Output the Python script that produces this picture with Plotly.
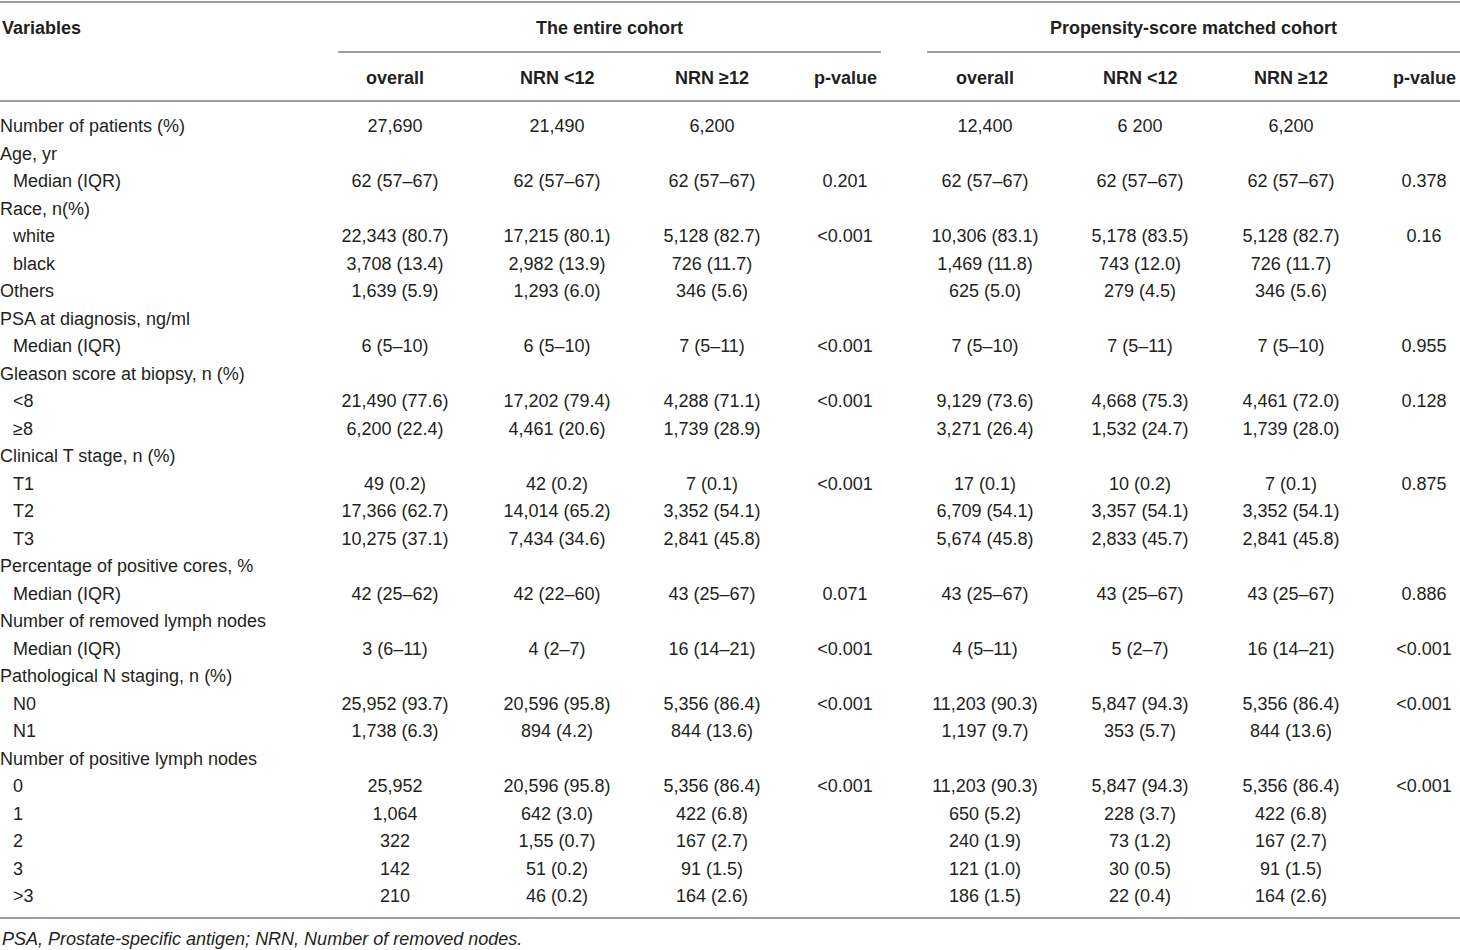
import plotly.graph_objects as go

# Row labels and whether they are indented sub-rows
labels = [
    "Number of patients (%)", "Age, yr", "Median (IQR)", "Race, n(%)", "white", "black",
    "Others", "PSA at diagnosis, ng/ml", "Median (IQR)", "Gleason score at biopsy, n (%)",
    "<8", "≥8", "Clinical T stage, n (%)", "T1", "T2", "T3",
    "Percentage of positive cores, %", "Median (IQR)", "Number of removed lymph nodes",
    "Median (IQR)", "Pathological N staging, n (%)", "N0", "N1",
    "Number of positive lymph nodes", "0", "1", "2", "3", ">3",
]
indented = [
    False, False, True, False, True, True,
    False, False, True, False,
    True, True, False, True, True, True,
    False, True, False,
    True, False, True, True,
    False, True, True, True, True, True,
]

# The entire cohort
ent_overall = [
    "27,690", "", "62 (57–67)", "", "22,343 (80.7)", "3,708 (13.4)",
    "1,639 (5.9)", "", "6 (5–10)", "",
    "21,490 (77.6)", "6,200 (22.4)", "", "49 (0.2)", "17,366 (62.7)", "10,275 (37.1)",
    "", "42 (25–62)", "",
    "3 (6–11)", "", "25,952 (93.7)", "1,738 (6.3)",
    "", "25,952", "1,064", "322", "142", "210",
]
ent_lt12 = [
    "21,490", "", "62 (57–67)", "", "17,215 (80.1)", "2,982 (13.9)",
    "1,293 (6.0)", "", "6 (5–10)", "",
    "17,202 (79.4)", "4,461 (20.6)", "", "42 (0.2)", "14,014 (65.2)", "7,434 (34.6)",
    "", "42 (22–60)", "",
    "4 (2–7)", "", "20,596 (95.8)", "894 (4.2)",
    "", "20,596 (95.8)", "642 (3.0)", "1,55 (0.7)", "51 (0.2)", "46 (0.2)",
]
ent_ge12 = [
    "6,200", "", "62 (57–67)", "", "5,128 (82.7)", "726 (11.7)",
    "346 (5.6)", "", "7 (5–11)", "",
    "4,288 (71.1)", "1,739 (28.9)", "", "7 (0.1)", "3,352 (54.1)", "2,841 (45.8)",
    "", "43 (25–67)", "",
    "16 (14–21)", "", "5,356 (86.4)", "844 (13.6)",
    "", "5,356 (86.4)", "422 (6.8)", "167 (2.7)", "91 (1.5)", "164 (2.6)",
]
ent_p = [
    "", "", "0.201", "", "<0.001", "",
    "", "", "<0.001", "",
    "<0.001", "", "", "<0.001", "", "",
    "", "0.071", "",
    "<0.001", "", "<0.001", "",
    "", "<0.001", "", "", "", "",
]

# Propensity-score matched cohort
psm_overall = [
    "12,400", "", "62 (57–67)", "", "10,306 (83.1)", "1,469 (11.8)",
    "625 (5.0)", "", "7 (5–10)", "",
    "9,129 (73.6)", "3,271 (26.4)", "", "17 (0.1)", "6,709 (54.1)", "5,674 (45.8)",
    "", "43 (25–67)", "",
    "4 (5–11)", "", "11,203 (90.3)", "1,197 (9.7)",
    "", "11,203 (90.3)", "650 (5.2)", "240 (1.9)", "121 (1.0)", "186 (1.5)",
]
psm_lt12 = [
    "6 200", "", "62 (57–67)", "", "5,178 (83.5)", "743 (12.0)",
    "279 (4.5)", "", "7 (5–11)", "",
    "4,668 (75.3)", "1,532 (24.7)", "", "10 (0.2)", "3,357 (54.1)", "2,833 (45.7)",
    "", "43 (25–67)", "",
    "5 (2–7)", "", "5,847 (94.3)", "353 (5.7)",
    "", "5,847 (94.3)", "228 (3.7)", "73 (1.2)", "30 (0.5)", "22 (0.4)",
]
psm_ge12 = [
    "6,200", "", "62 (57–67)", "", "5,128 (82.7)", "726 (11.7)",
    "346 (5.6)", "", "7 (5–10)", "",
    "4,461 (72.0)", "1,739 (28.0)", "", "7 (0.1)", "3,352 (54.1)", "2,841 (45.8)",
    "", "43 (25–67)", "",
    "16 (14–21)", "", "5,356 (86.4)", "844 (13.6)",
    "", "5,356 (86.4)", "422 (6.8)", "167 (2.7)", "91 (1.5)", "164 (2.6)",
]
psm_p = [
    "", "", "0.378", "", "0.16", "",
    "", "", "0.955", "",
    "0.128", "", "", "0.875", "", "",
    "", "0.886", "",
    "<0.001", "", "<0.001", "",
    "", "<0.001", "", "", "", "",
]

group_headers = ["The entire cohort", "Propensity-score matched cohort"]
sub_headers = ["overall", "NRN <12", "NRN ≥12", "p-value",
               "overall", "NRN <12", "NRN ≥12", "p-value"]
footnote = "PSA, Prostate-specific antigen; NRN, Number of removed nodes."

# layout (pixel space)
W, H = 1460, 950
FONT = "Liberation Sans, Arial, Helvetica, sans-serif"
TXT = "#231f20"
LINE = "#a0a0a0"
FS = 18
row0, row_h = 127.5, 27.5
col_x = [395, 557, 712, 845, 985, 1140, 1291, 1424]
group_x = [609, 1193]
row_y = [row0 + i * row_h for i in range(len(labels))]

fig = go.Figure()

# label column
lab_x = [13 if ind else 0 for ind in indented]
fig.add_trace(go.Scatter(
    x=lab_x, y=row_y, mode="text", text=labels, textposition="middle right",
    textfont=dict(family=FONT, size=FS, color=TXT), hoverinfo="skip",
))

columns = [ent_overall, ent_lt12, ent_ge12, ent_p,
           psm_overall, psm_lt12, psm_ge12, psm_p]
for cx, vals in zip(col_x, columns):
    fig.add_trace(go.Scatter(
        x=[cx] * len(vals), y=row_y, mode="text", text=vals, textposition="middle center",
        textfont=dict(family=FONT, size=FS, color=TXT), hoverinfo="skip",
    ))

# header text
fig.add_annotation(x=0, y=28, text="<b>Variables</b>", showarrow=False, xanchor="left",
                   font=dict(family=FONT, size=FS, color=TXT))
for gx, g in zip(group_x, group_headers):
    fig.add_annotation(x=gx, y=28, text=f"<b>{g}</b>", showarrow=False,
                       font=dict(family=FONT, size=FS, color=TXT))
for cx, s in zip(col_x, sub_headers):
    fig.add_annotation(x=cx, y=78, text=f"<b>{s}</b>", showarrow=False,
                       font=dict(family=FONT, size=FS, color=TXT))
fig.add_annotation(x=0, y=939, text=f"<i>{footnote}</i>", showarrow=False, xanchor="left",
                   font=dict(family=FONT, size=FS, color=TXT))

# rules
for y0, xa, xb in [(2, 0, W), (101, 0, W), (918, 0, W), (52, 338, 881), (52, 927, W)]:
    fig.add_shape(type="line", x0=xa, x1=xb, y0=y0, y1=y0,
                  line=dict(color=LINE, width=2))

fig.update_layout(
    width=W, height=H, margin=dict(l=0, r=0, t=0, b=0),
    paper_bgcolor="white", plot_bgcolor="white", showlegend=False,
    xaxis=dict(range=[0, W], visible=False, fixedrange=True),
    yaxis=dict(range=[H, 0], visible=False, fixedrange=True),
)

# page has a default 8px body margin, drop it so the table fills the window
fig.write_html("out.html", config={"displayModeBar": False},
               post_script="document.body.style.margin='0';")
